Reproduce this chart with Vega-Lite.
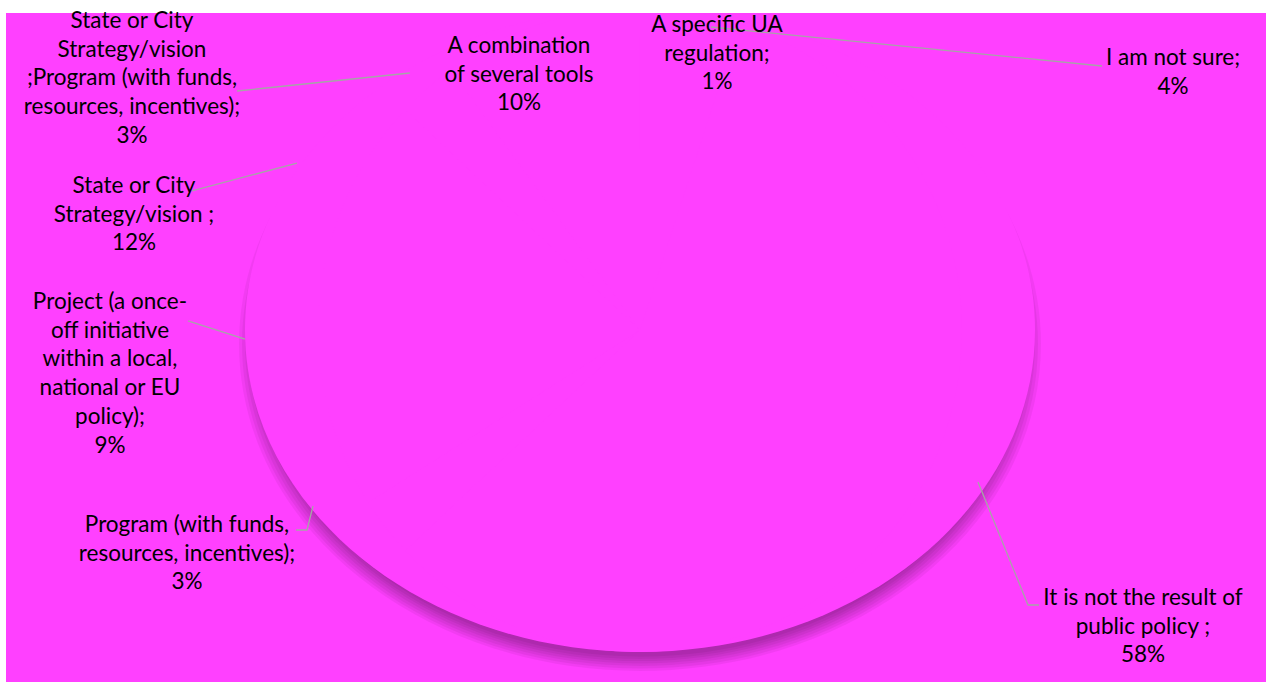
{
  "$schema": "https://vega.github.io/schema/vega-lite/v6.json",
  "width": 1260,
  "height": 669,
  "autosize": {"type": "none"},
  "padding": {"left": 6, "top": 13, "right": 0, "bottom": 0},
  "background": "white",
  "config": {"view": {"fill": "#FF40FF", "stroke": null}},
  "datasets": {
    "slices": [
      {"category": "A specific UA regulation", "value": 1},
      {"category": "I am not sure", "value": 4},
      {"category": "It is not the result of public policy", "value": 58},
      {"category": "Program (with funds, resources, incentives)", "value": 3},
      {"category": "Project (a once-off initiative within a local, national or EU policy)", "value": 9},
      {"category": "State or City Strategy/vision", "value": 12},
      {"category": "State or City Strategy/vision; Program (with funds, resources, incentives)", "value": 3},
      {"category": "A combination of several tools", "value": 10}
    ],
    "labels": [
      {"category": "A specific UA regulation", "text": "A specific UA\nregulation;\n1%", "lx": 0.1949, "ly": 0.9255},
      {"category": "I am not sure", "text": "I am not sure;\n4%", "lx": 1.3494, "ly": 0.823},
      {"category": "It is not the result of public policy", "text": "It is not the result of\npublic policy ;\n58%", "lx": 1.2734, "ly": -0.854},
      {"category": "Program (with funds, resources, incentives)", "text": "Program (with funds,\nresources, incentives);\n3%", "lx": -1.1468, "ly": -0.6273},
      {"category": "Project (a once-off initiative within a local, national or EU policy)", "text": "Project (a once-\noff initiative\nwithin a local,\nnational or EU\npolicy);\n9%", "lx": -1.3418, "ly": 0.0652},
      {"category": "State or City Strategy/vision", "text": "State or City\nStrategy/vision ;\n12%", "lx": -1.281, "ly": 0.4255},
      {"category": "State or City Strategy/vision; Program (with funds, resources, incentives)", "text": "State or City\nStrategy/vision\n;Program (with funds,\nresources, incentives);\n3%", "lx": -1.2861, "ly": 0.9379},
      {"category": "A combination of several tools", "text": "A combination\nof several tools\n10%", "lx": -0.3063, "ly": 0.8602}
    ],
    "leaders": [
      {"category": "I am not sure", "seq": 1, "px": 0.1797, "py": 0.941},
      {"category": "I am not sure", "seq": 2, "px": 1.1696, "py": 0.8199},
      {"category": "It is not the result of public policy", "seq": 1, "px": 0.8557, "py": -0.472},
      {"category": "It is not the result of public policy", "seq": 2, "px": 0.9823, "py": -0.854},
      {"category": "It is not the result of public policy", "seq": 3, "px": 1.0101, "py": -0.854},
      {"category": "Program (with funds, resources, incentives)", "seq": 1, "px": -0.8278, "py": -0.5466},
      {"category": "Program (with funds, resources, incentives)", "seq": 2, "px": -0.843, "py": -0.6211},
      {"category": "Program (with funds, resources, incentives)", "seq": 3, "px": -0.8709, "py": -0.6211},
      {"category": "Project (a once-off initiative within a local, national or EU policy)", "seq": 1, "px": -1.0, "py": -0.028},
      {"category": "Project (a once-off initiative within a local, national or EU policy)", "seq": 2, "px": -1.1443, "py": 0.028},
      {"category": "State or City Strategy/vision", "seq": 1, "px": -0.8684, "py": 0.5186},
      {"category": "State or City Strategy/vision", "seq": 2, "px": -1.1342, "py": 0.4317},
      {"category": "State or City Strategy/vision; Program (with funds, resources, incentives)", "seq": 1, "px": -0.5823, "py": 0.7981},
      {"category": "State or City Strategy/vision; Program (with funds, resources, incentives)", "seq": 2, "px": -1.0203, "py": 0.7422}
    ]
  },
  "layer": [
    {
      "data": {"values": [{}]},
      "layer": [
        {"mark": {"type": "point", "shape": "M0,-0.8152C0.5523,-0.8152,1,-0.4502,1,0C1,0.4502,0.5523,0.8152,0,0.8152C-0.5523,0.8152,-1,0.4502,-1,0C-1,-0.4502,-0.5523,-0.8152,0,-0.8152Z", "filled": true, "fill": "#000000", "opacity": 0.05, "strokeWidth": 0, "size": 588289, "yOffset": 14, "clip": true}},
        {"mark": {"type": "point", "shape": "M0,-0.8152C0.5523,-0.8152,1,-0.4502,1,0C1,0.4502,0.5523,0.8152,0,0.8152C-0.5523,0.8152,-1,0.4502,-1,0C-1,-0.4502,-0.5523,-0.8152,0,-0.8152Z", "filled": true, "fill": "#000000", "opacity": 0.05, "strokeWidth": 0, "size": 597529, "yOffset": 14, "clip": true}},
        {"mark": {"type": "point", "shape": "M0,-0.8152C0.5523,-0.8152,1,-0.4502,1,0C1,0.4502,0.5523,0.8152,0,0.8152C-0.5523,0.8152,-1,0.4502,-1,0C-1,-0.4502,-0.5523,-0.8152,0,-0.8152Z", "filled": true, "fill": "#000000", "opacity": 0.05, "strokeWidth": 0, "size": 605284, "yOffset": 14, "clip": true}},
        {"mark": {"type": "point", "shape": "M0,-0.8152C0.5523,-0.8152,1,-0.4502,1,0C1,0.4502,0.5523,0.8152,0,0.8152C-0.5523,0.8152,-1,0.4502,-1,0C-1,-0.4502,-0.5523,-0.8152,0,-0.8152Z", "filled": true, "fill": "#000000", "opacity": 0.05, "strokeWidth": 0, "size": 614656, "yOffset": 14, "clip": true}},
        {"mark": {"type": "point", "shape": "M0,-0.8152C0.5523,-0.8152,1,-0.4502,1,0C1,0.4502,0.5523,0.8152,0,0.8152C-0.5523,0.8152,-1,0.4502,-1,0C-1,-0.4502,-0.5523,-0.8152,0,-0.8152Z", "filled": true, "fill": "#000000", "opacity": 0.05, "strokeWidth": 0, "size": 624100, "yOffset": 14, "clip": true}},
        {"mark": {"type": "point", "shape": "M0,-0.8152C0.5523,-0.8152,1,-0.4502,1,0C1,0.4502,0.5523,0.8152,0,0.8152C-0.5523,0.8152,-1,0.4502,-1,0C-1,-0.4502,-0.5523,-0.8152,0,-0.8152Z", "filled": true, "fill": "#000000", "opacity": 0.05, "strokeWidth": 0, "size": 633616, "yOffset": 14, "clip": true}},
        {"mark": {"type": "point", "shape": "M0,-0.8152C0.5523,-0.8152,1,-0.4502,1,0C1,0.4502,0.5523,0.8152,0,0.8152C-0.5523,0.8152,-1,0.4502,-1,0C-1,-0.4502,-0.5523,-0.8152,0,-0.8152Z", "filled": true, "fill": "#000000", "opacity": 0.05, "strokeWidth": 0, "size": 643204, "yOffset": 14, "clip": true}},
        {"mark": {"type": "point", "shape": "M0,-0.8152C0.5523,-0.8152,1,-0.4502,1,0C1,0.4502,0.5523,0.8152,0,0.8152C-0.5523,0.8152,-1,0.4502,-1,0C-1,-0.4502,-0.5523,-0.8152,0,-0.8152Z", "filled": true, "fill": "#FF40FF", "opacity": 1, "strokeWidth": 0, "size": 624100, "clip": true}}
      ],
      "encoding": {
        "x": {"datum": 0, "type": "quantitative", "scale": {"domain": [-1.60506, 1.58481], "nice": false, "zero": false}, "axis": null},
        "y": {"datum": 0, "type": "quantitative", "scale": {"domain": [-1.09317, 0.98447], "nice": false, "zero": false}, "axis": null}
      }
    },
    {
      "data": {"name": "slices"},
      "mark": {"type": "arc", "radius": 322, "fill": "#FF40FF", "stroke": null, "clip": true},
      "encoding": {
        "theta": {"field": "value", "type": "quantitative", "stack": true},
        "x": {"datum": 0, "type": "quantitative", "scale": {"domain": [-1.60506, 1.58481], "nice": false, "zero": false}, "axis": null},
        "y": {"datum": 0, "type": "quantitative", "scale": {"domain": [-1.09317, 0.98447], "nice": false, "zero": false}, "axis": null},
        "tooltip": [{"field": "category"}, {"field": "value"}]
      }
    },
    {
      "data": {"name": "leaders"},
      "mark": {"type": "line", "color": "#A6A6A6", "strokeWidth": 1.3},
      "encoding": {
        "x": {"field": "px", "type": "quantitative", "scale": {"domain": [-1.60506, 1.58481], "nice": false, "zero": false}, "axis": null},
        "y": {"field": "py", "type": "quantitative", "scale": {"domain": [-1.09317, 0.98447], "nice": false, "zero": false}, "axis": null},
        "detail": {"field": "category"},
        "order": {"field": "seq"}
      }
    },
    {
      "data": {"name": "labels"},
      "mark": {"type": "text", "font": "Lato", "fontSize": 22.5, "color": "#000000", "align": "center", "baseline": "alphabetic", "lineHeight": 28.7, "lineBreak": "\n"},
      "encoding": {
        "x": {"field": "lx", "type": "quantitative", "scale": {"domain": [-1.60506, 1.58481], "nice": false, "zero": false}, "axis": null},
        "y": {"field": "ly", "type": "quantitative", "scale": {"domain": [-1.09317, 0.98447], "nice": false, "zero": false}, "axis": null},
        "text": {"field": "text"}
      }
    }
  ]
}
